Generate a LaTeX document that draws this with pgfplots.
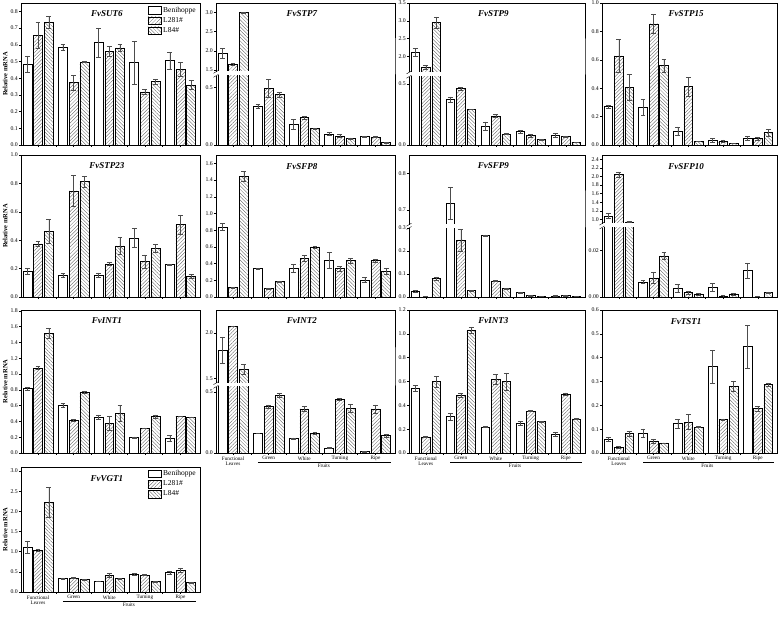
\documentclass[border=0pt]{standalone}
\usepackage{pgfplots}
\pgfplotsset{compat=1.18}
\usepackage{pgfplotstable}
\usetikzlibrary{patterns.meta}
\usepackage{fontspec}
\setmainfont{Liberation Serif}

\pgfplotstableread{
x a ae b be c ce
0 0.484 0.050 0.657 0.080 0.736 0.034
1 0.583 0.018 0.374 0.044 0.496 0.003
2 0.613 0.088 0.561 0.030 0.581 0.020
3 0.494 0.127 0.318 0.014 0.380 0.014
4 0.505 0.052 0.452 0.042 0.360 0.026
}\tSUT
\pgfplotstableread{
x a ae b be c ce
0 1.936 0.12 1.648 0.02 3.00 0.01
1 0.338 0.017 0.491 0.078 0.439 0.020
2 0.179 0.046 0.237 0.009 0.145 0.004
3 0.095 0.012 0.078 0.014 0.055 0.008
4 0.072 0.003 0.069 0.004 0.023 0.003
}\tSTPa
\pgfplotstableread{
x a ae b be c ce
0 2.12 0.11 1.69 0.05 2.95 0.16
1 0.374 0.022 0.464 0.011 0.292 0.002
2 0.158 0.033 0.238 0.011 0.090 0.003
3 0.109 0.013 0.079 0.011 0.044 0.003
4 0.082 0.016 0.071 0.003 0.022 0.002
}\tSTPb
\pgfplotstableread{
x a ae b be c ce
0 0.272 0.010 0.628 0.118 0.407 0.090
1 0.265 0.055 0.854 0.068 0.560 0.045
2 0.099 0.030 0.412 0.066 0.026 0.001
3 0.035 0.012 0.028 0.008 0.012 0.002
4 0.049 0.013 0.045 0.012 0.087 0.022
}\tSTPc
\pgfplotstableread{
x a ae b be c ce
0 0.181 0.020 0.374 0.016 0.461 0.085
1 0.153 0.012 0.748 0.108 0.812 0.038
2 0.155 0.016 0.233 0.012 0.360 0.061
3 0.416 0.068 0.249 0.049 0.341 0.028
4 0.228 0.005 0.511 0.068 0.148 0.012
}\tSTPd
\pgfplotstableread{
x a ae b be c ce
0 0.840 0.040 0.112 0.004 1.448 0.056
1 0.340 0.006 0.100 0.002 0.184 0.002
2 0.344 0.044 0.464 0.032 0.600 0.012
3 0.444 0.096 0.340 0.028 0.436 0.028
4 0.204 0.032 0.436 0.016 0.304 0.036
}\tSFPa
\pgfplotstableread{
x a ae b be c ce
0 0.026 0.003 0.001 0.0005 0.081 0.006
1 0.718 0.044 0.248 0.048 0.028 0.002
2 0.268 0.003 0.070 0.002 0.036 0.002
3 0.020 0.002 0.006 0.001 0.002 0.0005
4 0.005 0.001 0.007 0.002 0.002 0.0005
}\tSFPb
\pgfplotstableread{
x a ae b be c ce
0 1.078 0.06 2.05 0.06 0.94 0.005
1 0.0065 0.0007 0.0083 0.0024 0.0178 0.0015
2 0.0039 0.0017 0.0020 0.0006 0.0013 0.0003
3 0.0043 0.0017 0.0004 0.0003 0.0013 0.0003
4 0.0115 0.0032 0.0001 0.0002 0.0019 0.0003
}\tSFPc
\pgfplotstableread{
x a ae b be c ce
0 0.814 0.017 1.075 0.020 1.518 0.067
1 0.603 0.025 0.417 0.013 0.772 0.013
2 0.455 0.030 0.379 0.084 0.506 0.097
3 0.198 0.008 0.316 0.004 0.464 0.021
4 0.190 0.034 0.464 0.004 0.455 0.004
}\tINTa
\pgfplotstableread{
x a ae b be c ce
0 1.81 0.146 2.073 0.005 1.602 0.05
1 0.163 0.002 0.378 0.016 0.473 0.016
2 0.120 0.005 0.359 0.019 0.160 0.008
3 0.043 0.002 0.440 0.008 0.367 0.033
4 0.011 0.001 0.359 0.035 0.141 0.013
}\tINTb
\pgfplotstableread{
x a ae b be c ce
0 0.545 0.022 0.135 0.003 0.599 0.045
1 0.306 0.031 0.486 0.020 1.034 0.025
2 0.219 0.006 0.616 0.042 0.599 0.073
3 0.250 0.017 0.354 0.002 0.264 0.003
4 0.157 0.017 0.495 0.011 0.287 0.003
}\tINTc
\pgfplotstableread{
x a ae b be c ce
0 0.059 0.009 0.025 0.003 0.081 0.011
1 0.085 0.017 0.051 0.008 0.042 0.001
2 0.123 0.017 0.130 0.031 0.110 0.001
3 0.363 0.068 0.140 0.004 0.282 0.021
4 0.446 0.089 0.186 0.011 0.288 0.006
}\tTST
\pgfplotstableread{
x a ae b be c ce
0 1.12 0.15 1.04 0.03 2.23 0.37
1 0.34 0.01 0.35 0.01 0.31 0.01
2 0.27 0.01 0.42 0.05 0.33 0.01
3 0.44 0.03 0.42 0.01 0.26 0.01
4 0.48 0.04 0.54 0.06 0.24 0.01
}\tVGT

\pgfplotsset{
  panel/.style={
    scale only axis, anchor=south west,
    xmin=-0.48, xmax=4.55, ymin=0,
    axis line style={line width=0.5pt},
    xtick={0,1,2,3,4}, minor xtick={0.5,1.5,2.5,3.5}, xticklabels={},
    xtick pos=bottom, ytick pos=left,
    tick align=outside,
    major tick length=2.2pt, minor tick length=1.5pt,
    every tick/.style={line width=0.4pt, black},
    yticklabel style={font=\fontsize{5.8}{6.2}\selectfont, inner sep=0.8pt},
    xticklabel style={font=\fontsize{5.2}{5.6}\selectfont, align=center, inner sep=1pt},
    scaled y ticks=false,
    /pgf/number format/fixed, /pgf/number format/fixed zerofill,
    /pgf/number format/precision=1,
    /pgf/number format/assume math mode=true,
    clip mode=individual,
  },
  upper/.style={panel, xtick=\empty, minor xtick={}, axis line style={draw=none}},
  lower/.style={panel, axis line style={draw=none}},
  bottomlab/.style={xticklabels={{Functional\\Leaves},Green,White,Turning,Ripe}},
  errs/.style={error bars/.cd, y dir=both, y explicit,
    error bar style={line width=0.35pt, black!70},
    error mark options={rotate=90, mark size=2.4pt, line width=0.35pt, black!70}},
  leg/.style={
    legend style={at={(0.99,0.99)}, anchor=north east, draw=none, fill=none,
      font=\fontsize{7.5}{8}\selectfont, row sep=-0.5pt, inner sep=0.3pt,
      cells={anchor=west}},
    legend image code/.code={\draw[##1] (0pt,-3.6pt) rectangle (13pt,3.6pt);},
    legend entries={Benihoppe,L281\#,L84\#}},
}

\newcommand\bars[1]{%
\addplot[ybar, bar width=0.25, bar shift=0pt, draw=black, line width=0.45pt, fill=white, errs]
  table[x expr=\thisrow{x}-0.3, y=a, y error=ae]{#1};
\addplot[ybar, bar width=0.25, bar shift=0pt, draw=black, line width=0.45pt,
  pattern={Lines[angle=45,distance=2.5pt,line width=0.32pt]}, pattern color=black!65, errs]
  table[x=x, y=b, y error=be]{#1};
\addplot[ybar, bar width=0.25, bar shift=0pt, draw=black, line width=0.45pt,
  pattern={Lines[angle=-45,distance=2.5pt,line width=0.32pt]}, pattern color=black!65, errs]
  table[x expr=\thisrow{x}+0.3, y=c, y error=ce]{#1};
}
\newcommand\ttl[1]{\node[font=\bfseries\itshape\fontsize{9}{10}\selectfont, anchor=north]
  at ([yshift=-4.5pt]rel axis cs:0.48,1) {#1};}
\newcommand\relm{\node[rotate=90, font=\bfseries\fontsize{6.5}{7}\selectfont]
  at ([xshift=-15.8pt]rel axis cs:0,0.5) {Relative mRNA};}
\newcommand\upframe{%
  \fill[white] ([yshift=-0.4pt]rel axis cs:0,0) rectangle ([yshift=0.6pt]rel axis cs:1,0);
  \draw[line width=0.5pt] (rel axis cs:0,0) -- (rel axis cs:0,1) -- (rel axis cs:1,1) -- (rel axis cs:1,0) -- ([yshift=-5pt]rel axis cs:1,0);
  \draw[line width=0.4pt] ([xshift=-2.5pt,yshift=-1.5pt]rel axis cs:0,0) -- ([xshift=2.5pt,yshift=1.5pt]rel axis cs:0,0);}
\newcommand\loframe{\draw[line width=0.5pt] (rel axis cs:0,1) -- (rel axis cs:0,0) -- (rel axis cs:1,0) -- (rel axis cs:1,1);
  \draw[line width=0.4pt] ([xshift=-2.5pt,yshift=-1.5pt]rel axis cs:0,1) -- ([xshift=2.5pt,yshift=1.5pt]rel axis cs:0,1);}
\newcommand\fruits{\draw[line width=0.4pt] ([yshift=-9pt]axis cs:0.7,0) -- ([yshift=-9pt]axis cs:4.45,0);
  \node[font=\fontsize{5.2}{5.6}\selectfont] at ([yshift=-12.5pt]axis cs:2.55,0) {Fruits};}

\begin{document}
\begin{tikzpicture}
\path[use as bounding box] (0,0) rectangle (778pt,-621pt);

% Row 1
\begin{axis}[panel, leg, at={(21pt,-145pt)}, width=179pt, height=142pt, ymax=0.85,
  ytick={0,0.1,0.2,0.3,0.4,0.5,0.6,0.7,0.8}]
\bars{\tSUT}
\ttl{FvSUT6}\relm
\end{axis}

\begin{axis}[lower, at={(216pt,-145pt)}, width=179pt, height=69.2pt, ymax=0.6, ytick={0,0.5}]
\bars{\tSTPa}\loframe
\end{axis}
\begin{axis}[upper, at={(216pt,-71.8pt)}, width=179pt, height=68.8pt, ymin=1.45, ymax=3.25, ytick={1.5,2,2.5,3}]
\bars{\tSTPa}\upframe\ttl{FvSTP7}
\end{axis}

\begin{axis}[lower, at={(409pt,-145pt)}, width=176pt, height=68.3pt, ymax=0.56, ytick={0,0.5}]
\bars{\tSTPb}\loframe
\end{axis}
\begin{axis}[upper, at={(409pt,-72.4pt)}, width=176pt, height=69.4pt, ymin=1.55, ymax=3.5, ytick={2,2.5,3,3.5}]
\bars{\tSTPb}\upframe\ttl{FvSTP9}
\end{axis}

\begin{axis}[panel, at={(602pt,-145pt)}, width=175pt, height=142pt, ymax=1.0,
  ytick={0,0.2,0.4,0.6,0.8,1.0}]
\bars{\tSTPc}
\ttl{FvSTP15}
\end{axis}

% Row 2
\begin{axis}[panel, at={(21pt,-297pt)}, width=179pt, height=142pt, ymax=1.0,
  ytick={0,0.2,0.4,0.6,0.8,1.0}]
\bars{\tSTPd}
\ttl{FvSTP23}\relm
\end{axis}

\begin{axis}[panel, at={(216pt,-297pt)}, width=179pt, height=142pt, ymax=1.7,
  ytick={0,0.2,0.4,0.6,0.8,1.0,1.2,1.4,1.6}]
\bars{\tSFPa}
\ttl{FvSFP8}
\end{axis}

\begin{axis}[lower, at={(409pt,-297pt)}, width=176pt, height=69pt, ymax=0.3, ytick={0,0.1,0.2,0.3}]
\bars{\tSFPb}\loframe
\end{axis}
\begin{axis}[upper, at={(409pt,-224.7pt)}, width=176pt, height=69.7pt, ymin=0.66, ymax=0.85, ytick={0.7,0.8}]
\bars{\tSFPb}\upframe\ttl{FvSFP9}
\end{axis}

\begin{axis}[lower, at={(602pt,-297pt)}, width=175pt, height=69.5pt, ymax=0.03, ytick={0,0.02},
  /pgf/number format/precision=2]
\bars{\tSFPc}\loframe
\end{axis}
\begin{axis}[upper, at={(602pt,-223.6pt)}, width=175pt, height=68.6pt, ymin=0.9, ymax=2.5,
  ytick={1.0,1.2,1.4,1.6,1.8,2.0,2.2,2.4}]
\bars{\tSFPc}\upframe\ttl{FvSFP10}
\end{axis}

% Row 3
\begin{axis}[panel, at={(21pt,-453pt)}, width=179pt, height=143pt, ymax=1.81,
  ytick={0,0.2,0.4,0.6,0.8,1.0,1.2,1.4,1.6,1.8}]
\bars{\tINTa}
\ttl{FvINT1}\relm
\end{axis}

\begin{axis}[lower, bottomlab, at={(216pt,-453pt)}, width=179pt, height=66.2pt, ymax=0.54, ytick={0,0.5}]
\bars{\tINTb}\loframe\fruits
\end{axis}
\begin{axis}[upper, at={(216pt,-383.1pt)}, width=179pt, height=73.1pt, ymin=1.45, ymax=2.25, ytick={1.5,2.0}]
\bars{\tINTb}\upframe\ttl{FvINT2}
\end{axis}

\begin{axis}[panel, bottomlab, at={(409pt,-453pt)}, width=176pt, height=143pt, ymax=1.2,
  ytick={0,0.2,0.4,0.6,0.8,1.0,1.2}]
\bars{\tINTc}
\ttl{FvINT3}\fruits
\end{axis}

\begin{axis}[panel, bottomlab, at={(602pt,-453pt)}, width=175pt, height=143pt, ymax=0.6,
  ytick={0,0.1,0.2,0.3,0.4,0.5,0.6}]
\bars{\tTST}
\ttl{FvTST1}\fruits
\end{axis}

% Row 4
\begin{axis}[panel, leg, bottomlab, at={(21pt,-592pt)}, width=179pt, height=125pt, ymax=3.1,
  ytick={0,0.5,1.0,1.5,2.0,2.5,3.0}]
\bars{\tVGT}
\ttl{FvVGT1}\relm\fruits
\end{axis}

\end{tikzpicture}
\end{document}
